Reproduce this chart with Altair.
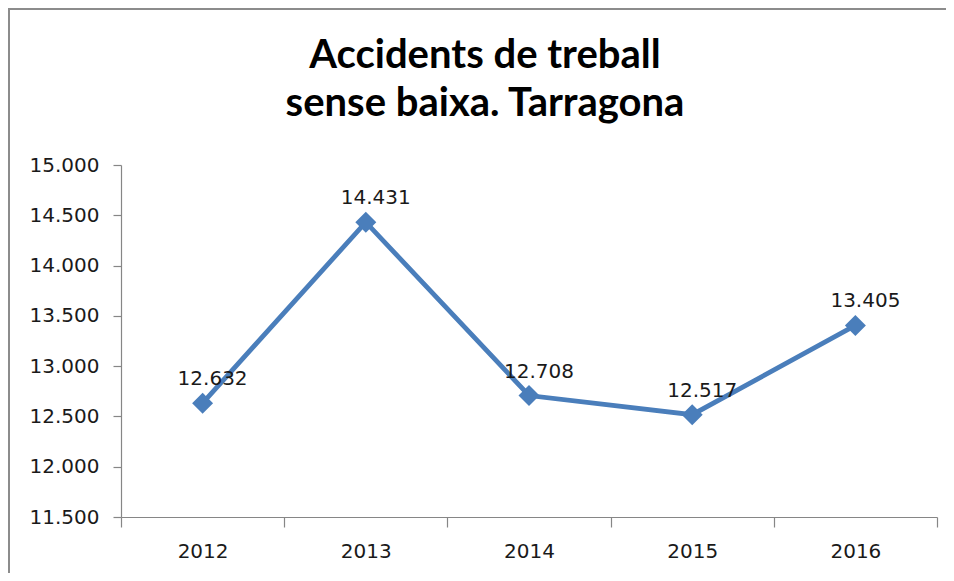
import altair as alt
import pandas as pd

years = ["2012", "2013", "2014", "2015", "2016"]
values = [12632, 14431, 12708, 12517, 13405]
title_lines = ["Accidents de treball", "sense baixa. Tarragona"]
y_ticks = [11500, 12000, 12500, 13000, 13500, 14000, 14500, 15000]

df = pd.DataFrame({"year": years, "value": values})

LINE = "#4A7EBB"
AXIS = "#868686"
TXT = "#1a1a1a"
FONT = "DejaVu Sans"
fmt = "replace(format(datum.value, ','), ',', '.')"

x_enc = alt.X(
    "year:O",
    title=None,
    bandPosition=0.5,
    scale=alt.Scale(type="band", paddingInner=0, paddingOuter=0),
    axis=alt.Axis(
        tickBand="extent", labelAngle=0, labelFont=FONT, labelFontSize=20,
        labelColor=TXT, domainColor=AXIS, tickColor=AXIS, tickSize=10,
        labelPadding=14, grid=False, domainWidth=1.2, tickWidth=1.2,
    ),
)
y_enc = alt.Y(
    "value:Q",
    title=None,
    scale=alt.Scale(domain=[11500, 15000], nice=False, zero=False),
    axis=alt.Axis(
        values=y_ticks, labelExpr=fmt, labelFont=FONT, labelFontSize=20,
        labelColor=TXT, domainColor=AXIS, tickColor=AXIS, tickSize=8,
        labelPadding=14, grid=False, domainWidth=1.2, tickWidth=1.2,
    ),
)

base = alt.Chart(df).encode(x=x_enc, y=y_enc)

line = base.mark_line(color=LINE, strokeWidth=4.8)
points = base.mark_point(shape="diamond", filled=True, size=440, color=LINE, opacity=1)
labels = base.transform_calculate(lab=fmt).mark_text(
    font=FONT, fontSize=20, dy=-24, dx=10, color=TXT, baseline="middle"
).encode(text="lab:N")

one = alt.Data(values=[{"a": 1}])
border_top = alt.Chart(one).mark_rule(color="#8c8c8c", strokeWidth=2).encode(
    x=alt.value(-113), x2=alt.value(825), y=alt.value(-156)
)
border_left = alt.Chart(one).mark_rule(color="#8c8c8c", strokeWidth=2).encode(
    x=alt.value(-112), y=alt.value(-157), y2=alt.value(408)
)

chart = alt.layer(line, points, labels, border_top, border_left).properties(
    width=816,
    height=352,
    padding={"left": 113, "top": 157, "right": 9, "bottom": 56},
    autosize=alt.AutoSizeParams(type="none"),
    title=alt.TitleParams(
        text=title_lines, font="Lato", fontSize=40, fontWeight="bold",
        color="#000000", anchor="middle", dx=-44, offset=-157,
        lineHeight=48, baseline="bottom",
    ),
).configure_view(stroke=None)

chart.save("out.html", embed_options={"renderer": "svg", "actions": False})
